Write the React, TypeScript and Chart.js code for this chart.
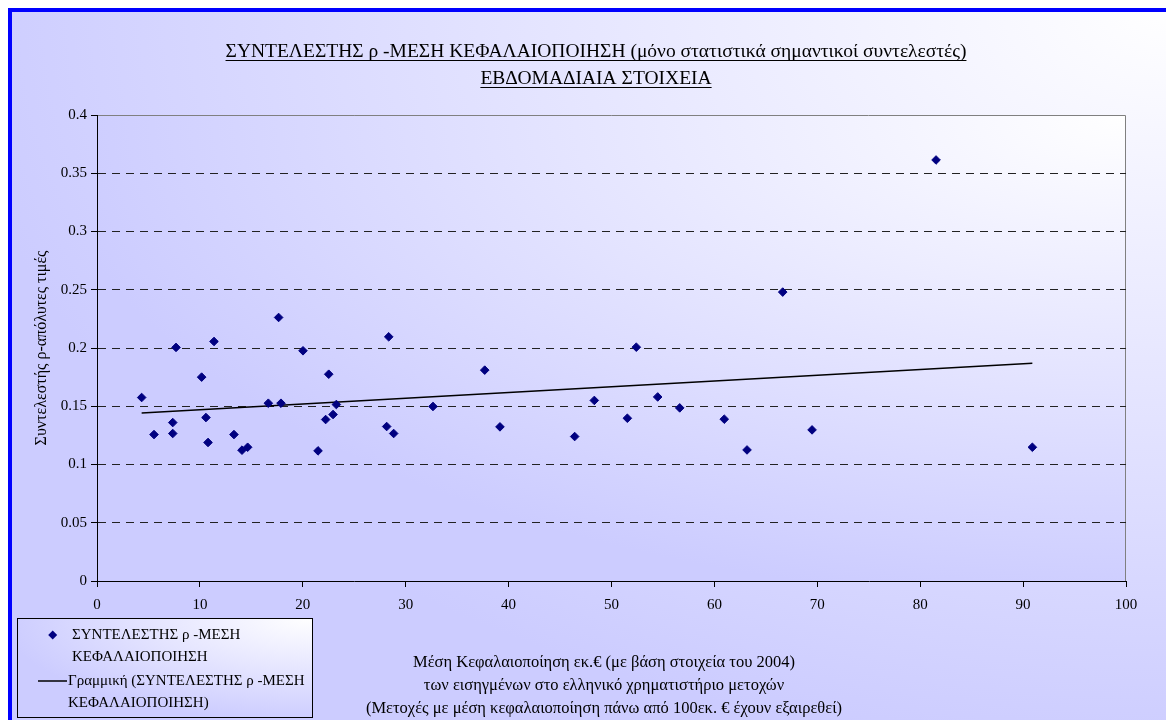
import React, { useEffect, useRef } from "react";
import { Chart, registerables } from "chart.js";

Chart.register(...registerables);

// ---- data ----
const capitalisation = [
  4.34, 5.54, 7.36, 7.36, 7.68, 10.17, 10.59, 10.79, 11.37, 13.31, 14.09, 14.64,
  16.65, 17.65, 17.88, 20.02, 21.48, 22.22, 22.52, 22.94, 23.26, 28.15, 28.35,
  28.83, 32.65, 37.68, 39.16, 46.42, 48.33, 51.54, 52.41, 54.49, 56.63, 60.96,
  63.17, 66.64, 69.49, 81.54, 90.9,
];
const rhoAbs = [
  0.1575, 0.1257, 0.136, 0.1266, 0.2005, 0.175, 0.1403, 0.1189, 0.2056, 0.1257,
  0.1123, 0.1148, 0.1526, 0.2262, 0.1526, 0.1976, 0.1117, 0.1386, 0.1775, 0.1429,
  0.1515, 0.1326, 0.2096, 0.1266, 0.1498, 0.181, 0.1323, 0.124, 0.155, 0.1397,
  0.2007, 0.158, 0.1486, 0.1389, 0.1125, 0.248, 0.1297, 0.3614, 0.1148,
];
const trendX = [4.34, 90.9];
const trendY = [0.1443, 0.187];

const titleLines = [
  "ΣΥΝΤΕΛΕΣΤΗΣ ρ -ΜΕΣΗ ΚΕΦΑΛΑΙΟΠΟΙΗΣΗ (μόνο στατιστικά σημαντικοί συντελεστές)",
  "ΕΒΔΟΜΑΔΙΑΙΑ ΣΤΟΙΧΕΙΑ",
];
const xTitleLines = [
  "Μέση Κεφαλαιοποίηση εκ.€ (με βάση στοιχεία του 2004)",
  "των εισηγμένων στο ελληνικό χρηματιστήριο μετοχών",
  "(Μετοχές με μέση κεφαλαιοποίηση πάνω από 100εκ. € έχουν εξαιρεθεί)",
];
const yTitle = "Συντελεστής ρ-απόλυτες τιμές";
const legendSeries = ["ΣΥΝΤΕΛΕΣΤΗΣ ρ -ΜΕΣΗ", "ΚΕΦΑΛΑΙΟΠΟΙΗΣΗ"];
const legendTrend = ["Γραμμική (ΣΥΝΤΕΛΕΣΤΗΣ ρ -ΜΕΣΗ", "ΚΕΦΑΛΑΙΟΠΟΙΗΣΗ)"];

const FONT = '"Liberation Serif", "Times New Roman", serif';
const NAVY = "#000080";

function cornerGradient(ctx: CanvasRenderingContext2D, x: number, y: number, w: number, h: number) {
  ctx.save();
  ctx.beginPath();
  ctx.rect(x, y, w, h);
  ctx.clip();
  ctx.translate(x + w, y);
  ctx.scale(w, h);
  const g = ctx.createRadialGradient(0, 0, 0, 0, 0, 1.05);
  g.addColorStop(0, "#ffffff");
  g.addColorStop(1, "#ccccff");
  ctx.fillStyle = g;
  ctx.fillRect(-1, 0, 1, 1);
  ctx.restore();
}

const decorPlugin = {
  id: "decor",
  beforeDraw(chart: any) {
    const { ctx, width, height, chartArea: a } = chart;
    cornerGradient(ctx, 0, 0, width, height);
    cornerGradient(ctx, a.left, a.top, a.right - a.left, a.bottom - a.top);
    ctx.save();
    ctx.strokeStyle = "#808080";
    ctx.lineWidth = 1;
    ctx.beginPath();
    ctx.moveTo(a.left, a.top + 0.5);
    ctx.lineTo(a.right - 0.5, a.top + 0.5);
    ctx.lineTo(a.right - 0.5, a.bottom);
    ctx.stroke();
    ctx.restore();
  },
  afterDraw(chart: any) {
    const { ctx, width, height } = chart;
    ctx.save();
    // title with underline
    ctx.fillStyle = "#000";
    ctx.strokeStyle = "#000";
    ctx.font = `19.5px ${FONT}`;
    ctx.textAlign = "center";
    ctx.textBaseline = "alphabetic";
    const tcx = 588;
    const baselines = [49, 76];
    titleLines.forEach((t, i) => {
      ctx.fillText(t, tcx, baselines[i]);
      const w = ctx.measureText(t).width;
      ctx.lineWidth = 1;
      ctx.beginPath();
      ctx.moveTo(tcx - w / 2, baselines[i] + 3.5);
      ctx.lineTo(tcx + w / 2, baselines[i] + 3.5);
      ctx.stroke();
    });

    // x axis title
    ctx.font = `16.5px ${FONT}`;
    ctx.textBaseline = "middle";
    const xty = [655, 678, 701];
    xTitleLines.forEach((t, i) => ctx.fillText(t, 596, xty[i]));

    // legend box
    const lx = 9, ly = 610, lw = 295, lh = 99;
    cornerGradient(ctx, lx, ly, lw, lh);
    ctx.strokeStyle = "#000";
    ctx.lineWidth = 1;
    ctx.strokeRect(lx + 0.5, ly + 0.5, lw, lh);
    // diamond
    ctx.fillStyle = NAVY;
    const dx = 44.7, dy = 627, r = 4.5;
    ctx.beginPath();
    ctx.moveTo(dx, dy - r);
    ctx.lineTo(dx + r, dy);
    ctx.lineTo(dx, dy + r);
    ctx.lineTo(dx - r, dy);
    ctx.closePath();
    ctx.fill();
    // trend line sample
    ctx.strokeStyle = "#000";
    ctx.lineWidth = 1.5;
    ctx.beginPath();
    ctx.moveTo(30, 673);
    ctx.lineTo(59, 673);
    ctx.stroke();
    ctx.fillStyle = "#000";
    ctx.textAlign = "left";
    ctx.font = `15px ${FONT}`;
    ctx.fillText(legendSeries[0], 64, 627);
    ctx.fillText(legendSeries[1], 64, 649);
    ctx.fillText(legendTrend[0], 60, 673);
    ctx.fillText(legendTrend[1], 60, 695);

    // blue frame (top & left visible)
    ctx.fillStyle = "#0000ff";
    ctx.fillRect(0, 0, width, 4);
    ctx.fillRect(0, 0, 4, height);
    ctx.restore();
  },
};

export default function App() {
  const ref = useRef<HTMLCanvasElement | null>(null);
  useEffect(() => {
    if (!ref.current) return;
    const points = capitalisation.map((x, i) => ({ x, y: rhoAbs[i] }));
    const trend = trendX.map((x, i) => ({ x, y: trendY[i] }));
    const chart = new Chart(ref.current, {
      type: "scatter",
      data: {
        datasets: [
          {
            label: legendSeries.join(" "),
            data: points,
            pointStyle: "rectRot",
            pointRadius: 4.3,
            pointBackgroundColor: NAVY,
            pointBorderColor: NAVY,
            pointBorderWidth: 1,
          },
          {
            label: legendTrend.join(" "),
            data: trend,
            showLine: true,
            borderColor: "#000",
            borderWidth: 1.5,
            pointRadius: 0,
          },
        ],
      },
      options: {
        responsive: false,
        animation: false,
        devicePixelRatio: 1,
        layout: { padding: { left: 0, top: 107, right: 48, bottom: 0 } },
        plugins: {
          legend: { display: false },
          title: { display: false },
          tooltip: { enabled: false },
        },
        scales: {
          x: {
            type: "linear",
            min: 0,
            max: 100,
            afterFit: (s: any) => {
              s.height = 139;
            },
            ticks: {
              stepSize: 10,
              padding: 9,
              color: "#000",
              font: { family: FONT, size: 15 },
              maxRotation: 0,
            },
            grid: {
              drawOnChartArea: false,
              drawTicks: true,
              tickLength: 6,
              tickColor: "#000",
              tickWidth: 1,
            },
            border: { color: "#000", width: 1 },
          },
          y: {
            type: "linear",
            min: 0,
            max: 0.4,
            afterFit: (s: any) => {
              s.width = 89;
            },
            ticks: {
              stepSize: 0.05,
              padding: 4,
              color: "#000",
              font: { family: FONT, size: 15 },
              callback: (v: any) => String(Math.round(Number(v) * 100) / 100),
            },
            grid: {
              color: (c: any) =>
                c.tick && (Math.abs(c.tick.value) < 1e-9 || Math.abs(c.tick.value - 0.4) < 1e-9)
                  ? "rgba(0,0,0,0)"
                  : "#222",
              lineWidth: 1,
              drawTicks: true,
              tickLength: 6,
              tickColor: "#000",
              tickWidth: 1,
              tickBorderDash: [],
            },
            border: { color: "#000", width: 1, dash: [8, 6] },
            title: {
              display: true,
              text: yTitle,
              color: "#000",
              font: { family: FONT, size: 16 },
              padding: { top: 24, bottom: 0 },
            },
          },
        },
      },
      plugins: [decorPlugin],
    } as any);
    return () => chart.destroy();
  }, []);
  return (
    <canvas
      ref={ref}
      width={1166}
      height={712}
      style={{ display: "block", width: 1166, height: 712 }}
    />
  );
}
